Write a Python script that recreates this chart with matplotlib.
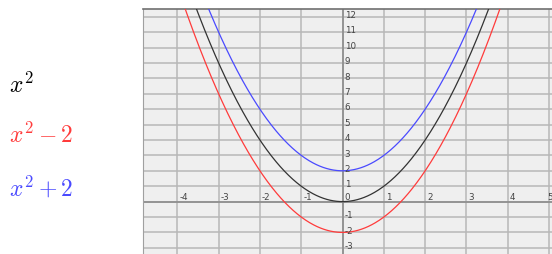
import numpy as np
import matplotlib.pyplot as plt

plt.rcParams['mathtext.fontset'] = 'cm'

# curves: label, offset added to x^2, colour
labels = [r'$x^2$', r'$x^2 - 2$', r'$x^2 + 2$']
offsets = [0, -2, 2]
colors = ['#333333', '#ff3b3b', '#4a4aff']

x_ticks = [-4, -3, -2, -1, 1, 2, 3, 4, 5]
y_ticks = [-3, -2, -1, 1, 2, 3, 4, 5, 6, 7, 8, 9, 10, 11, 12]

fig = plt.figure(figsize=(5.52, 2.55), dpi=100)
ax = fig.add_axes([143/552, 0, 1 - 143/552, 1 - 10/255])
ax.set_facecolor('#efefef')
ax.set_xlim(-4.83, 5.07)
ax.set_ylim(-3.4, 12.5)

# grid
for gx in range(-4, 6):
    ax.axvline(gx, color='#b8b8b8', lw=1.1, zorder=1)
for gy in range(-3, 13):
    ax.axhline(gy, color='#b8b8b8', lw=1.1, zorder=1)
ax.axvline(0, color='#8c8c8c', lw=1.2, zorder=2)
ax.axhline(0, color='#8c8c8c', lw=1.2, zorder=2)

for s in ['right', 'bottom']:
    ax.spines[s].set_visible(False)
ax.spines['top'].set_color('#707070')
ax.spines['top'].set_linewidth(1.2)
ax.spines['left'].set_color('#a0a0a0')
ax.set_xticks([])
ax.set_yticks([])

xs = np.linspace(-4.83, 5.07, 600)
for off, c in zip(offsets, colors):
    ax.plot(xs, xs**2 + off, color=c, lw=0.9, zorder=3)

# tick labels drawn along the axes
for t in x_ticks:
    # last label sits on the right edge, keep it inside the figure
    xpos, ha = (t + 0.02, 'center') if t == x_ticks[-1] else (t + 0.05, 'left')
    ax.text(xpos, 0.02, str(t), fontsize=6.3, color='#444444',
            ha=ha, va='bottom', zorder=4)
ax.text(0.05, 0.02, '0', fontsize=6.3, color='#444444', ha='left', va='bottom', zorder=4)
for t in y_ticks:
    ax.text(0.05, t + 0.15, str(t), fontsize=6.3, color='#444444',
            ha='left', va='center', zorder=4)

# labels on the left
label_y = [85, 135, 188]
for lab, c, py in zip(labels, colors, label_y):
    fig.text(9/552, 1 - py/255, lab, color=c if c != '#333333' else 'black',
             fontsize=17, ha='left', va='center')

fig.savefig('out.png', dpi=100)
